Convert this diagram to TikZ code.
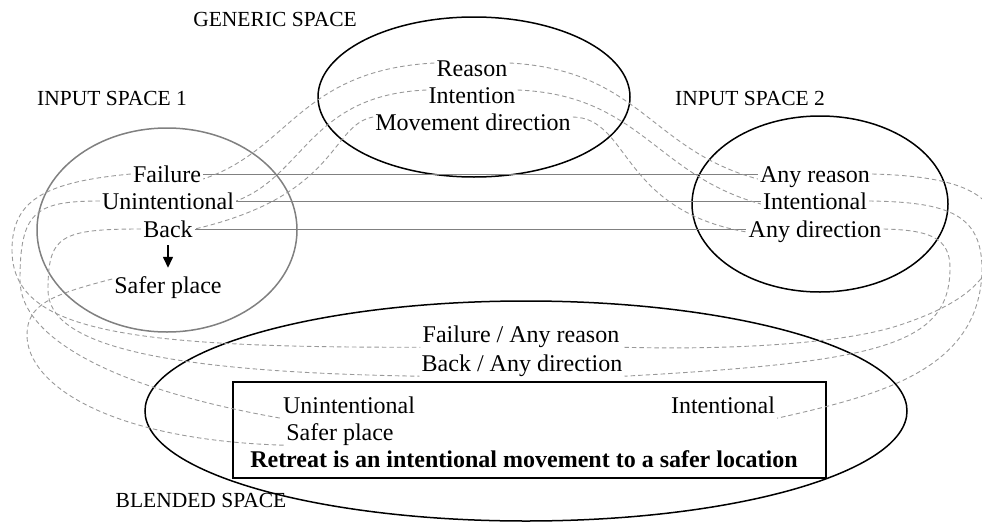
\documentclass[tikz,border=0pt]{standalone}
\usepackage{fontspec}
\setmainfont{Liberation Serif}
\usetikzlibrary{arrows.meta}

\begin{document}
\begin{tikzpicture}[x=1pt,y=-1pt,
    txt/.style={anchor=base,inner sep=2pt,text height=19pt,text depth=3pt,
        font=\fontsize{24}{28}\selectfont},
    ttl/.style={anchor=base,inner sep=0pt,font=\fontsize{21.5}{26}\selectfont},
    mapline/.style={draw=gray!80,dash pattern=on 4.5pt off 3pt,line width=0.9pt},
    solidline/.style={draw=gray,line width=1pt},
    spaceline/.style={line width=1.5pt}]
    \useasboundingbox (0,0) rectangle (982,522);
    %% the four spaces
    \draw[spaceline] (474,97) ellipse [x radius=156pt, y radius=80pt];
    \draw[spaceline,draw=gray] (167,230) ellipse [x radius=130pt, y radius=102pt];
    \draw[spaceline] (820,204) ellipse [x radius=128pt, y radius=88pt];
    \draw[spaceline] (526,411) ellipse [x radius=381pt, y radius=110pt];
    \draw[line width=1.2pt] (233,382) rectangle (826,478);
    %% titles
    \node[ttl] (gentitle) at (275,27) {GENERIC SPACE};
    \node[ttl] (in1title) at (112,105) {INPUT SPACE 1};
    \node[ttl] (in2title) at (750,105) {INPUT SPACE 2};
    \node[ttl] (bltitle) at (201,507) {BLENDED SPACE};
    %% generic space
    \node[txt] (reason) at (472,76) {Reason};
    \node[txt] (intention) at (472,103) {Intention};
    \node[txt] (movdir) at (473,130) {Movement direction};
    %% input space 1
    \node[txt] (failure) at (167,182) {Failure};
    \node[txt] (unint) at (168,209) {Unintentional};
    \node[txt] (back) at (168,237) {Back};
    \node[txt] (safer) at (168,293) {Safer place};
    \draw[-{Triangle[length=11pt,width=10pt]},line width=1.4pt,
        shorten <=3pt,shorten >=4pt] (back.south) -- (safer.north);
    %% input space 2
    \node[txt] (anyreason) at (815,182) {Any reason};
    \node[txt] (intent) at (815,209) {Intentional};
    \node[txt] (anydir) at (815,237) {Any direction};
    %% blended space
    \node[txt] (blfail) at (521,342) {Failure / Any reason};
    \node[txt] (blback) at (522,371) {Back / Any direction};
    \node[txt] (bxunint) at (349,413) {Unintentional};
    \node[txt] (bxsafer) at (340,440) {Safer place};
    \node[txt] (bxint) at (723,413) {Intentional};
    \node[txt,font=\fontsize{24}{28}\selectfont\bfseries] (retreat) at (524,467)
        {Retreat is an intentional movement to a safer location};
    %% cross-space mappings
    \draw[solidline] (failure.east) -- (anyreason.west);
    \draw[solidline] (unint.east) -- (intent.west);
    \draw[solidline] (back.east) -- (anydir.west);
    %% generic to inputs
    \draw[mapline] ([yshift=5pt]reason.west) .. controls (300,70) and (290,150) .. ([yshift=-5pt]failure.east);
    \draw[mapline] ([yshift=5pt]intention.west) .. controls (310,95) and (305,175) .. (unint.east);
    \draw[mapline] ([yshift=5pt]movdir.west) .. controls (330,125) and (340,195) .. (back.east);
    \draw[mapline] ([yshift=5pt]reason.east) .. controls (640,70) and (650,150) .. ([yshift=-5pt]anyreason.west);
    \draw[mapline] ([yshift=5pt]intention.east) .. controls (640,95) and (655,175) .. ([yshift=-3pt]intent.west);
    \draw[mapline] ([yshift=5pt]movdir.east) .. controls (630,118) and (620,210) .. ([yshift=-3pt]anydir.west);
    %% input 1 to blend
    \draw[mapline] (failure.west) .. controls (45,182) and (12,200) .. (12,250)
        .. controls (12,330) and (120,348) .. (blfail.south west);
    \draw[mapline] (unint.west) .. controls (35,201) and (20,212) .. (20,280)
        .. controls (20,340) and (120,390) .. (bxunint.south west);
    \draw[mapline] (back.west) .. controls (60,229) and (48,236) .. (48,290)
        .. controls (48,345) and (160,372) .. (blback.south west);
    \draw[mapline] ([yshift=6pt]safer.west) .. controls (50,295) and (27,305) .. (27,335)
        .. controls (27,385) and (110,440) .. (bxsafer.south west);
    %% input 2 to blend
    \draw[mapline] (anyreason.east) .. controls (950,176) and (997,190) .. (997,232)
        .. controls (997,280) and (960,305) .. (900,325)
        .. controls (840,345) and (720,350) .. (blfail.south east);
    \draw[mapline] (intent.east) .. controls (950,202) and (982,215) .. (982,270)
        .. controls (980,370) and (880,395) .. (bxint.south east);
    \draw[mapline] (anydir.east) .. controls (930,230) and (950,238) .. (950,268)
        .. controls (950,345) and (880,362) .. (blback.south east);
\end{tikzpicture}
\end{document}
